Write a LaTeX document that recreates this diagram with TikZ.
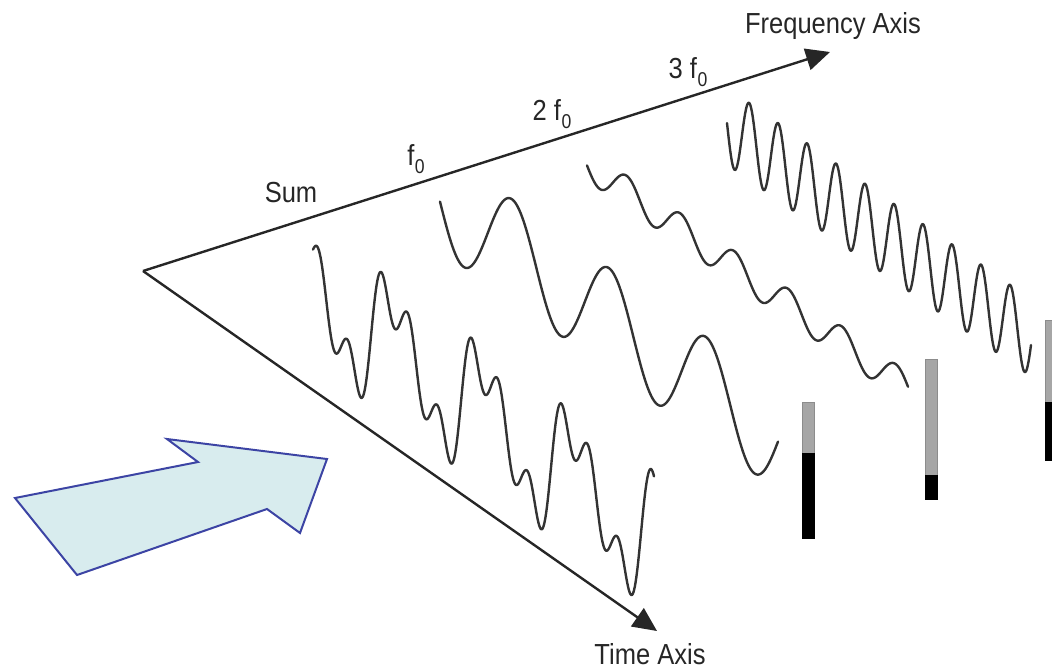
\documentclass[tikz,border=0pt]{standalone}
\usepackage{fontspec}
\usetikzlibrary{arrows.meta}
\newfontfamily\axisfont[FakeStretch=0.88]{Liberation Sans}
\definecolor{arrowfill}{HTML}{D8ECEE}
\definecolor{arrowline}{HTML}{3C44A4}
\newcommand{\fnull}{f\kern0.5pt\raisebox{-8pt}{\fontsize{20}{20}\selectfont 0}}

\begin{document}
\begin{tikzpicture}[x=1pt, y=-1pt,
  axis/.style={draw=black!85, line width=2.4pt, -{Triangle[length=24pt,width=22pt]}},
  wave/.style={draw=black!80, line width=2.4pt, line join=round, line cap=round},
  lbl/.style={font=\axisfont\fontsize{29}{32}\selectfont, text=black!85, inner sep=0pt, anchor=base},
  bargrey/.style={fill=black!35, draw=black!45, line width=0.8pt},
  barblack/.style={fill=black, draw=black, line width=0.8pt},
  bigarrow/.style={fill=arrowfill, draw=arrowline, line width=2pt, line join=miter}
]
\useasboundingbox (0,0) rectangle (1052,670);

% axes
\coordinate (o) at (143,271);
\coordinate (ftip) at (830,52);
\coordinate (ttip) at (657,631);
\draw[axis] (o) -- (ftip);
\draw[axis] (o) -- (ttip);

\node[lbl] (faxis) at (833,33)  {Frequency Axis};
\node[lbl, text depth=0pt] (taxis) at (650,664) {Time Axis};
\node[lbl] (lsum)  at (291,202) {Sum};
\node[lbl] (lf1)   at (416,165) {\fnull};
\node[lbl] (lf2)   at (552,120) {2 \fnull};
\node[lbl] (lf3)   at (688,78)  {3 \fnull};

% waves
\draw[wave] plot[domain=313:654, samples=500]
  (\x, {406.7 + 0.73*(\x-471) - 52.5*cos(4*(\x-471)-52.2) - 12*cos(8*(\x-471)-8.5) - 28.5*cos(12*(\x-471)+28.5)});
\draw[wave] plot[domain=440:778, samples=300]
  (\x, {218.3 + 0.71*(\x-467) + 51*cos((\x-463.5)/97*360)});
\draw[wave] plot[domain=587:908, samples=300]
  (\x, {175.2 + 0.70*(\x-603) + 16*cos((\x-599.7)/53.8*360)});
\draw[wave] plot[domain=727:1031, samples=500]
  (\x, {131.6 + 0.697*(\x-735) + 38.5*cos((\x-734.6)/29*360)});

% amplitude bars
\foreach \bx/\btop/\bmid/\bbot in {802/402/453/538, 925/359/475/499, 1045/320/402/460} {
  \draw[bargrey]  (\bx,\btop) rectangle (\bx+12,\bmid);
  \draw[barblack] (\bx,\bmid) rectangle (\bx+12,\bbot);
}

% big arrow
\draw[bigarrow] (15,498) -- (198,462) -- (167,439) -- (327,459) -- (300,533)
  -- (267,509) -- (77,575) -- cycle;
\end{tikzpicture}
\end{document}
